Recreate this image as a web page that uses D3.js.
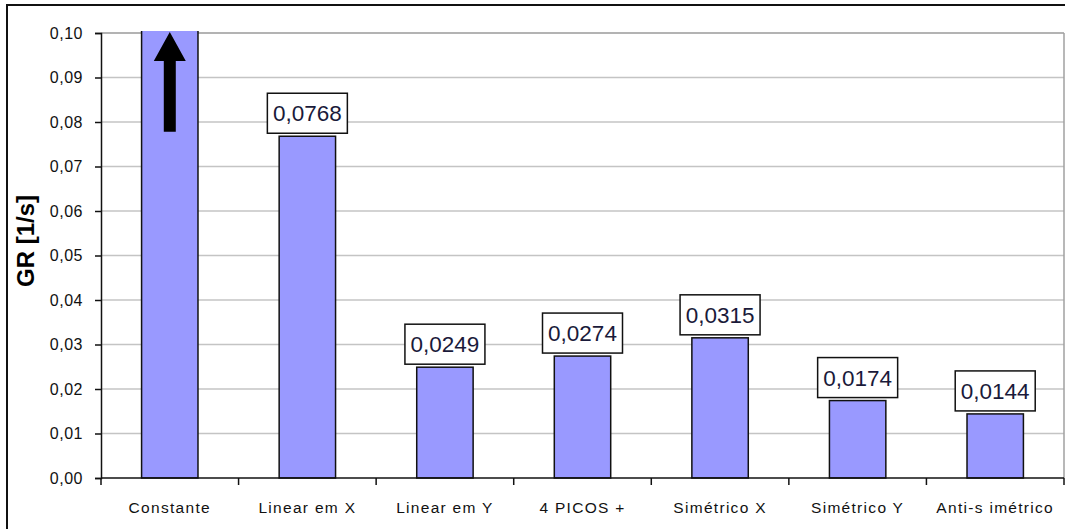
<!DOCTYPE html>
<html>
<head>
<meta charset="utf-8">
<script src="https://cdn.jsdelivr.net/npm/d3@7"></script>
<style>
  html, body { margin: 0; padding: 0; background: #fff; }
  svg { display: block; }
</style>
</head>
<body>
<svg id="chart" width="1065" height="529"></svg>
<script>
// ---- data ----
const categories = ["Constante", "Linear em X", "Linear em Y", "4 PICOS +", "Simétrico X", "Simétrico Y", "Anti-s imétrico"];
// "Constante" is off the scale (arrow indicates it exceeds 0,10); value is an estimate above the axis max
const values = [0.5, 0.0768, 0.0249, 0.0274, 0.0315, 0.0174, 0.0144];
const valueLabels = [null, "0,0768", "0,0249", "0,0274", "0,0315", "0,0174", "0,0144"];
const yTicks = [0, 0.01, 0.02, 0.03, 0.04, 0.05, 0.06, 0.07, 0.08, 0.09, 0.10];
const yTitle = "GR [1/s]";

(function () {
// ---- layout ----
const pl = 101, pr = 1064, pt = 33, pb = 478;
const svg = d3.select("#chart");
const font = "'Liberation Sans', Arial, sans-serif";

// outer frame
svg.append("rect").attr("x", 7).attr("y", 5).attr("width", 1100).attr("height", 600)
  .attr("fill", "#fff").attr("stroke", "#111").attr("stroke-width", 2);

const x = d3.scaleBand().domain(categories).range([pl, pr]).paddingInner(0.59).paddingOuter(0.295);
const xb = d3.scaleLinear().domain([0, categories.length]).range([pl, pr]);
const y = d3.scaleLinear().domain([0, 0.10]).range([pb, pt]);

// gridlines
svg.append("g").selectAll("line").data(yTicks.filter(d => d > 0)).join("line")
  .attr("x1", pl).attr("x2", pr)
  .attr("y1", d => y(d)).attr("y2", d => y(d))
  .attr("stroke", d => d >= 0.1 ? "#9a9a9a" : "#c4c4c4").attr("stroke-width", 1.6);

// right border of plot area
svg.append("line").attr("x1", pr).attr("x2", pr).attr("y1", pt).attr("y2", pb)
  .attr("stroke", "#a0a0a0").attr("stroke-width", 1.5);

// clip for bars
svg.append("clipPath").attr("id", "plotclip").append("rect")
  .attr("x", pl).attr("y", pt - 2).attr("width", pr - pl).attr("height", pb - pt + 4);

// bars
svg.append("g").attr("clip-path", "url(#plotclip)").selectAll("rect").data(categories).join("rect")
  .attr("x", d => x(d)).attr("width", x.bandwidth())
  .attr("y", (d, i) => y(values[i])).attr("height", (d, i) => pb - y(values[i]))
  .attr("fill", "#9999ff").attr("stroke", "#111").attr("stroke-width", 1.5);

// arrow on the off-scale bar
{
  const cx = x(categories[0]) + x.bandwidth() / 2;
  const tipY = y(0.10) - 1, headY = y(0.0937), tailY = y(0.0778);
  const hw = 16, sw = 6;
  svg.append("path")
    .attr("d", `M${cx},${tipY} L${cx + hw},${headY} L${cx + sw},${headY} L${cx + sw},${tailY} L${cx - sw},${tailY} L${cx - sw},${headY} L${cx - hw},${headY} Z`)
    .attr("fill", "#000");
}

// y axis
const yAxis = d3.axisLeft(y).tickValues(yTicks).tickSize(6).tickPadding(12)
  .tickFormat(d => d3.format(".2f")(d).replace(".", ","));
const gy = svg.append("g").attr("transform", `translate(${pl},0)`).call(yAxis);
gy.select(".domain").attr("stroke", "#111").attr("stroke-width", 1.5);
gy.selectAll(".tick line").attr("stroke", "#111").attr("stroke-width", 1.5);
gy.selectAll(".tick text").attr("font-family", font).attr("font-size", 16)
  .attr("letter-spacing", 0.5).attr("fill", "#111");

// x axis line and ticks at band boundaries
svg.append("line").attr("x1", pl).attr("x2", pr).attr("y1", pb).attr("y2", pb)
  .attr("stroke", "#111").attr("stroke-width", 1.5);
svg.append("g").selectAll("line").data(d3.range(categories.length + 1)).join("line")
  .attr("x1", d => xb(d)).attr("x2", d => xb(d)).attr("y1", pb).attr("y2", pb + 7)
  .attr("stroke", "#111").attr("stroke-width", 1.5);

// category labels
svg.append("g").selectAll("text").data(categories).join("text")
  .attr("x", d => x(d) + x.bandwidth() / 2).attr("y", 513)
  .attr("text-anchor", "middle").attr("font-family", font).attr("font-size", 15.5)
  .attr("letter-spacing", 1.3).attr("fill", "#111").text(d => d);

// value label boxes
const lab = svg.append("g").selectAll("g").data(categories.map((c, i) => ({ c, v: values[i], t: valueLabels[i] })).filter(d => d.t))
  .join("g");
lab.append("rect")
  .attr("x", d => x(d.c) + x.bandwidth() / 2 - 40).attr("y", d => y(d.v) - 43)
  .attr("width", 80).attr("height", 40)
  .attr("fill", "#fff").attr("stroke", "#111").attr("stroke-width", 1.5);
lab.append("text")
  .attr("x", d => x(d.c) + x.bandwidth() / 2).attr("y", d => y(d.v) - 15)
  .attr("text-anchor", "middle").attr("font-family", font).attr("font-size", 22.5)
  .attr("fill", "#1a1a3a").text(d => d.t);

// y title
svg.append("text").attr("transform", `translate(34,241) rotate(-90)`)
  .attr("text-anchor", "middle").attr("font-family", font).attr("font-size", 24)
  .attr("font-weight", "bold").attr("fill", "#000").text(yTitle);
})();
</script>
</body>
</html>
